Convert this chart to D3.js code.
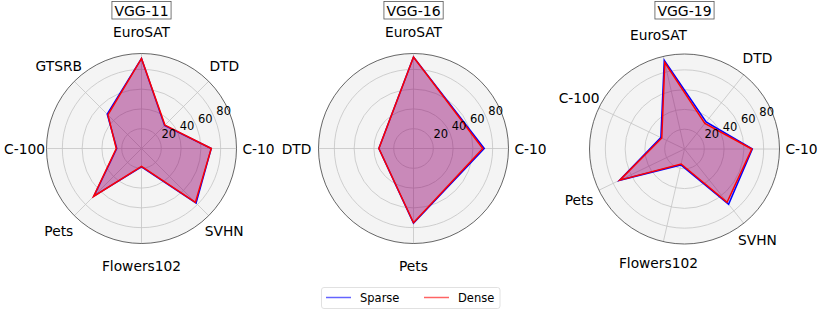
<!DOCTYPE html>
<html>
<head>
<meta charset="utf-8">
<script src="https://cdn.jsdelivr.net/npm/d3@7"></script>
<style>
  body { margin: 0; background: #fff; }
  text { font-family: "DejaVu Sans", sans-serif; fill: #000; }
</style>
</head>
<body>
<script>
// categories go counter-clockwise, starting at 3 o'clock (matplotlib polar style)
var titles = ["VGG-11", "VGG-16", "VGG-19"];

var cats11 = ["C-10", "DTD", "EuroSAT", "GTSRB", "C-100", "Pets", "Flowers102", "SVHN"];
var sparse11 = [70.5, 33, 91, 49, 25, 68, 18.5, 78];
var dense11 = [70.5, 33.5, 91, 48, 25.5, 68.5, 18, 77];

var cats16 = ["C-10", "EuroSAT", "DTD", "Pets"];
var sparse16 = [71.5, 92.5, 35, 75.5];
var dense16 = [70, 92.5, 35, 75];

var cats19 = ["C-10", "DTD", "EuroSAT", "C-100", "Pets", "Flowers102", "SVHN"];
var sparse19 = [68.5, 35, 92, 26.5, 73, 16.5, 71.5];
var dense19 = [68, 33, 89.5, 25.5, 72.5, 15.5, 69];

var rTicks = [20, 40, 60, 80];
var rMax = 96;

var width = 822,
	height = 312,
	colorSparse = "#0000ff",
	colorDense = "#ff0000";

var panels = [
	{ title: titles[0], cats: cats11, sparse: sparse11, dense: dense11, cx: 141.5, cy: 148.5 },
	{ title: titles[1], cats: cats16, sparse: sparse16, dense: dense16, cx: 413.5, cy: 148.5 },
	{ title: titles[2], cats: cats19, sparse: sparse19, dense: dense19, cx: 684.5, cy: 149 }
];

var svg = d3.select("body")
	.append("svg")
	.attr("width", width)
	.attr("height", height);

var r = d3.scaleLinear().domain([0, rMax]).range([0, 95]);

panels.forEach(function(p) {
	var g = svg.append("g")
		.attr("transform", "translate(" + p.cx + "," + p.cy + ")");

	var angle = d3.scaleLinear().domain([0, p.cats.length]).range([0, 2 * Math.PI]);

	function px(i, v) { return r(v) * Math.cos(angle(i)); }
	function py(i, v) { return -r(v) * Math.sin(angle(i)); }

	// background
	g.append("circle")
		.attr("r", r(rMax))
		.attr("fill", "#f4f4f4");

	// grid circles
	g.selectAll(".ring")
		.data(rTicks)
		.enter().append("circle")
		.attr("r", function(d) { return r(d); })
		.attr("fill", "none")
		.attr("stroke", "#c4c4c4")
		.attr("stroke-width", 0.8);

	// spokes
	g.selectAll(".spoke")
		.data(p.cats)
		.enter().append("line")
		.attr("x1", 0).attr("y1", 0)
		.attr("x2", function(d, i) { return px(i, rMax); })
		.attr("y2", function(d, i) { return py(i, rMax); })
		.attr("stroke", "#c4c4c4")
		.attr("stroke-width", 0.8);

	var line = d3.lineRadial()
		.angle(function(d, i) { return Math.PI / 2 - angle(i); })
		.radius(function(d) { return r(d); })
		.curve(d3.curveLinearClosed);

	[[p.sparse, colorSparse], [p.dense, colorDense]].forEach(function(s) {
		g.append("path")
			.attr("d", line(s[0]))
			.attr("fill", s[1])
			.attr("fill-opacity", 0.25)
			.attr("stroke", s[1])
			.attr("stroke-width", 1.5)
			.attr("stroke-linejoin", "miter");
	});

	// outer frame
	g.append("circle")
		.attr("r", r(rMax))
		.attr("fill", "none")
		.attr("stroke", "#404040")
		.attr("stroke-width", 0.8);

	// radial tick labels at 22.5deg
	var a = Math.PI / 8;
	g.selectAll(".rlab")
		.data(rTicks)
		.enter().append("text")
		.attr("x", function(d) { return r(d) * Math.cos(a) + 9; })
		.attr("y", function(d) { return -r(d) * Math.sin(a) - 7; })
		.attr("text-anchor", "middle")
		.attr("dominant-baseline", "central")
		.style("font-size", "11.5px")
		.text(function(d) { return d; });

	// category labels
	g.selectAll(".clab")
		.data(p.cats)
		.enter().append("text")
		.attr("x", function(d, i) { return 117 * Math.cos(angle(i)); })
		.attr("y", function(d, i) { return -117 * Math.sin(angle(i)); })
		.attr("text-anchor", "middle")
		.attr("dominant-baseline", "central")
		.style("font-size", "13.8px")
		.text(function(d) { return d; });

	// boxed title
	var tg = svg.append("g");
	var box = tg.append("rect");
	var t = tg.append("text")
		.attr("x", p.cx)
		.attr("y", 10.5)
		.attr("text-anchor", "middle")
		.attr("dominant-baseline", "central")
		.style("font-size", "14px")
		.text(p.title);
	var bb = t.node().getBBox();
	box.attr("x", bb.x - 2.5)
		.attr("y", 1.5)
		.attr("width", bb.width + 5)
		.attr("height", 17.5)
		.attr("fill", "#fff")
		.attr("stroke", "#555")
		.attr("stroke-width", 0.8);
});

// legend
var legend = svg.append("g");
legend.append("rect")
	.attr("x", 321.5).attr("y", 287.5)
	.attr("width", 178.5).attr("height", 21)
	.attr("rx", 2.5)
	.attr("fill", "#fff")
	.attr("stroke", "#d9d9d9")
	.attr("stroke-width", 0.8);

var legItems = [
	{ name: "Sparse", color: "#6464ff", x: 326 },
	{ name: "Dense", color: "#ff6464", x: 424 }
];
legItems.forEach(function(d) {
	legend.append("line")
		.attr("x1", d.x).attr("x2", d.x + 25)
		.attr("y1", 297.5).attr("y2", 297.5)
		.attr("stroke", d.color)
		.attr("stroke-width", 1.5);
	legend.append("text")
		.attr("x", d.x + 34)
		.attr("y", 297.5)
		.attr("dominant-baseline", "central")
		.style("font-size", "11.5px")
		.text(d.name);
});
</script>
</body>
</html>
